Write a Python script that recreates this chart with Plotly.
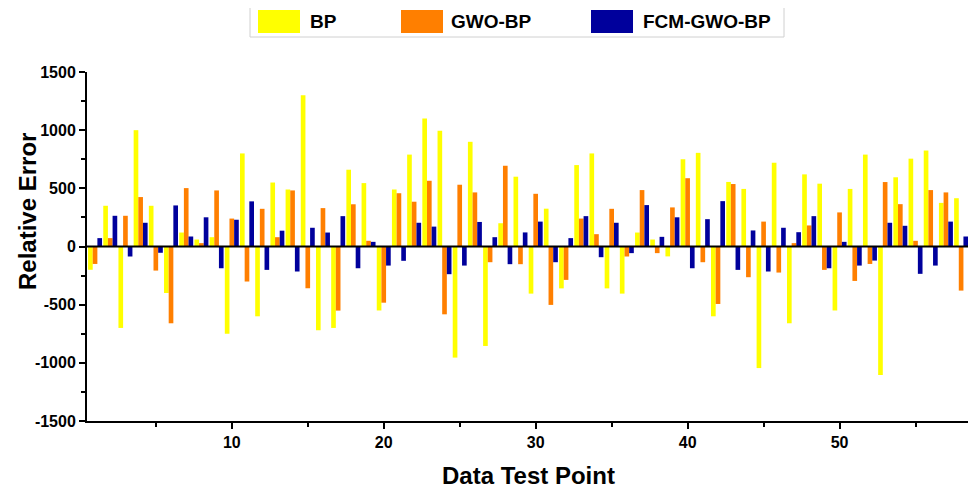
import plotly.graph_objects as go

points = list(range(1, 60))
series_names = ["BP", "GWO-BP", "FCM-GWO-BP"]
series_colors = ["#FFFF00", "#FF7F00", "#00009C"]

bp = [-200, 350, -700, 1000, 350, -400, 120, 60, 80, -750,
      800, -600, 550, 490, 1300, -720, -700, 660, 545, -550,
      490, 790, 1100, 995, -955, 900, -855, 200, 600, -405,
      325, -360, 700, 800, -360, -405, 120, 60, -85, 750,
      805, -600, 555, 495, -1045, 720, -660, 620, 540, -550,
      495, 790, -1105, 595, 755, 825, 375, 415, -60]
gwo_bp = [-150, 72, 264, 425, -207, -660, 502, 29, 482, 240,
          -301, 324, 80, 482, -359, 330, -551, 363, 49, -483,
          458, 385, 565, -583, 531, 465, -135, 694, -152, 453,
          -502, -287, 240, 106, 324, -86, 485, -57, 336, 587,
          -135, -494, 537, -264, 214, -224, 29, 181, -201, 293,
          -296, -150, 554, 364, 49, 485, 465, -379, None]
fcm_gwo_bp = [72, 264, -86, 204, -54, 353, 86, 251, -187, 230,
              388, -201, 136, -215, 161, 120, 261, -187, 40, -164,
              -123, 204, 171, -238, -164, 211, 80, -152, 121, 214,
              -135, 72, 261, -92, 204, -57, 356, 83, 251, -187,
              235, 390, -201, 138, -215, 161, 123, 261, -187, 40,
              -164, -121, 204, 178, -235, -164, 214, 86, None]

x_ticks = [10, 20, 30, 40, 50]
y_ticks = [-1500, -1000, -500, 0, 500, 1000, 1500]

FONT = "Arial, Liberation Sans, sans-serif"

# the page has an 8px body margin, so the figure is sized/positioned to compensate
OFF = 8

fig = go.Figure()
for name, vals, col in zip(series_names, [bp, gwo_bp, fcm_gwo_bp], series_colors):
    fig.add_trace(go.Bar(x=points, y=vals, name=name, marker=dict(color=col, line=dict(width=0)),
                         showlegend=False))

fig.update_layout(
    width=976 - OFF, height=489 - OFF,
    margin=dict(l=87 - OFF, r=0, t=72 - OFF, b=489 - 421, autoexpand=False),
    paper_bgcolor="white", plot_bgcolor="white",
    barmode="group", bargap=0.08, bargroupgap=0,
    font=dict(family=FONT, color="black"),
)

fig.update_xaxes(
    range=[0.47, 58.98], automargin=False,
    tickvals=x_ticks, ticktext=[f"<b>{v}</b>" for v in x_ticks],
    ticks="outside", ticklen=6, tickwidth=1.5, tickcolor="black",
    minor=dict(tickvals=[5, 15, 25, 35, 45, 55], ticks="outside", ticklen=4, tickwidth=1.5, tickcolor="black"),
    showline=True, linecolor="black", linewidth=2,
    showgrid=False, zeroline=False,
    tickfont=dict(size=16, family=FONT),
)
fig.update_yaxes(
    range=[-1500, 1500], automargin=False,
    tickvals=y_ticks, ticktext=[f"<b>{v}</b>" for v in y_ticks],
    ticks="outside", ticklen=6, tickwidth=1.5, tickcolor="black",
    minor=dict(dtick=250, ticks="outside", ticklen=4, tickwidth=1.5, tickcolor="black"),
    showline=True, linecolor="black", linewidth=2,
    showgrid=False, zeroline=False,
    tickfont=dict(size=16, family=FONT),
)

# zero line
fig.add_shape(type="line", xref="paper", yref="y", x0=0, x1=1, y0=0, y1=0,
              line=dict(color="black", width=2), layer="above")

# page-pixel -> paper coordinates (plot area spans page x 87..976, y 72..421)
W = 976 - 87
H = 421 - 72
def px(xp):
    return (xp - 87) / W
def py(yp):
    return (421 - yp) / H

# axis titles
fig.add_annotation(text="<b>Relative Error</b>", xref="paper", yref="paper",
                   x=px(27), y=py(212), textangle=-90, showarrow=False,
                   xanchor="center", yanchor="middle", font=dict(size=24, family=FONT))
fig.add_annotation(text="<b>Data Test Point</b>", xref="paper", yref="paper",
                   x=px(528), y=py(476), showarrow=False,
                   xanchor="center", yanchor="middle", font=dict(size=24, family=FONT))

# legend (box, swatches, labels)
fig.add_shape(type="rect", xref="paper", yref="paper",
              x0=px(250), x1=px(784), y0=py(37), y1=py(6),
              line=dict(color="#D0D0D0", width=1), fillcolor="white", layer="above")
sw_x = [258, 401, 591]
tx_x = [308, 449, 641]
for name, col, sx, tx in zip(series_names, series_colors, sw_x, tx_x):
    fig.add_shape(type="rect", xref="paper", yref="paper",
                  x0=px(sx), x1=px(sx + 42), y0=py(33), y1=py(10),
                  line=dict(width=0), fillcolor=col, layer="above")
    fig.add_annotation(text=f"<b>{name}</b>", xref="paper", yref="paper",
                       x=px(tx), y=py(21.5), xanchor="left", yanchor="middle",
                       showarrow=False, font=dict(size=19, family=FONT))

fig.write_html("out.html")
